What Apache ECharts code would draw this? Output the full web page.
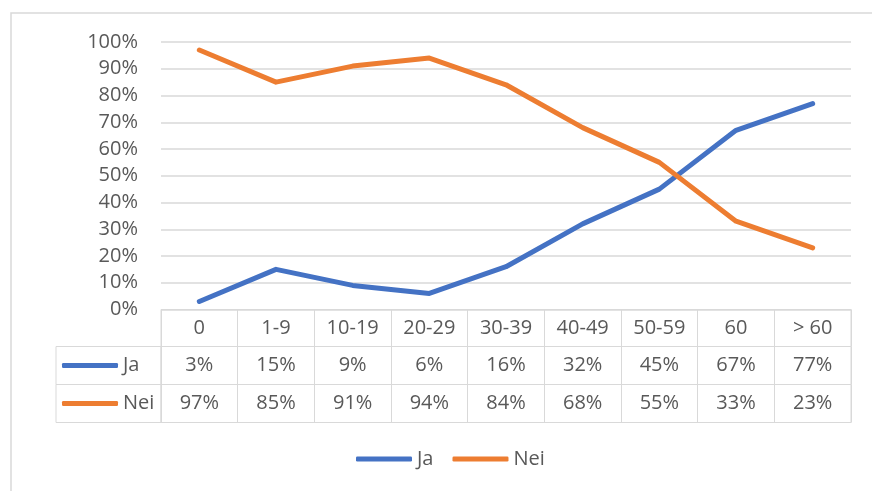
<!DOCTYPE html>
<html>
<head>
<meta charset="utf-8">
<script src="https://cdn.jsdelivr.net/npm/echarts@6/dist/echarts.min.js"></script>
<style>
  html, body { margin: 0; padding: 0; background: #fff; }
  #chart { width: 872px; height: 491px; }
</style>
</head>
<body>
<div id="chart"></div>
<script>
// data
const categories = ['0', '1-9', '10-19', '20-29', '30-39', '40-49', '50-59', '60', '> 60'];
const jaValues = [3, 15, 9, 6, 16, 32, 45, 67, 77];
const neiValues = [97, 85, 91, 94, 84, 68, 55, 33, 23];

const FONT = 'Open Sans';
const TEXT = '#595959';
const BORDER = '#D9D9D9';
const BLUE = '#4472C4';
const ORANGE = '#ED7D31';

// table rows (top, height) under the plot
const rowHead = [309.5, 37];
const rowJa = [346.5, 38];
const rowNei = [384.5, 38];

const pct = v => v + '%';

function rowGrid(row) {
  return {
    left: 161, right: 21, top: row[0], height: row[1],
    show: true, borderColor: BORDER, borderWidth: 1
  };
}

function rowAxis(index, labels) {
  return {
    type: 'category',
    gridIndex: index,
    position: 'top',
    data: labels,
    axisLine: { show: false },
    axisTick: { show: false },
    splitLine: { show: true, interval: 0, lineStyle: { color: BORDER, width: 1 } },
    axisLabel: {
      inside: true, interval: 0, margin: 19, verticalAlign: 'middle',
      fontFamily: FONT, fontSize: 20, color: TEXT
    }
  };
}

function hiddenY(index) {
  return { type: 'value', gridIndex: index, min: 0, max: 1, show: false };
}

const legendText = { fontFamily: FONT, fontSize: 20, color: TEXT };
function legend(left, top, names, gap) {
  return {
    left: left, top: top, data: names,
    icon: 'roundRect', itemWidth: 56, itemHeight: 5, itemGap: gap || 10,
    selectedMode: false, textStyle: legendText, padding: 0
  };
}

let myChart = echarts.init(document.getElementById('chart'));

myChart.setOption({
  animation: false,
  color: [BLUE, ORANGE],
  grid: [
    { left: 161, right: 21, top: 42, height: 267.5 },
    rowGrid(rowHead),
    rowGrid(rowJa),
    rowGrid(rowNei)
  ],
  xAxis: [
    {
      type: 'category', gridIndex: 0, data: categories,
      axisLine: { show: false }, axisTick: { show: false }, axisLabel: { show: false }
    },
    rowAxis(1, categories),
    rowAxis(2, jaValues.map(pct)),
    rowAxis(3, neiValues.map(pct))
  ],
  yAxis: [
    {
      type: 'value', gridIndex: 0, min: 0, max: 100, interval: 10,
      axisLine: { show: false }, axisTick: { show: false },
      axisLabel: { formatter: '{value}%', margin: 23, fontFamily: FONT, fontSize: 20, color: TEXT },
      splitLine: { lineStyle: { color: BORDER, width: 1.5 } }
    },
    hiddenY(1), hiddenY(2), hiddenY(3)
  ],
  legend: [
    legend(356, 449, ['Ja', 'Nei'], 19),
    legend(62, rowJa[0] + rowJa[1] / 2 - 10, ['Ja']),
    legend(62, rowNei[0] + rowNei[1] / 2 - 10, ['Nei'])
  ],
  graphic: [
    // chart frame
    { type: 'rect', shape: { x: 11, y: 13, width: 900, height: 520 },
      style: { fill: 'none', stroke: BORDER, lineWidth: 1.5 }, silent: true },
    // left column of data table
    { type: 'rect', shape: { x: 56, y: rowJa[0], width: 105, height: rowJa[1] },
      style: { fill: 'none', stroke: BORDER, lineWidth: 1 }, silent: true },
    { type: 'rect', shape: { x: 56, y: rowNei[0], width: 105, height: rowNei[1] },
      style: { fill: 'none', stroke: BORDER, lineWidth: 1 }, silent: true }
  ],
  series: [
    {
      name: 'Ja', type: 'line', data: jaValues, symbol: 'none',
      lineStyle: { width: 5, color: BLUE, cap: 'round', join: 'round' }
    },
    {
      name: 'Nei', type: 'line', data: neiValues, symbol: 'none',
      lineStyle: { width: 5, color: ORANGE, cap: 'round', join: 'round' }
    }
  ]
});
</script>
</body>
</html>
